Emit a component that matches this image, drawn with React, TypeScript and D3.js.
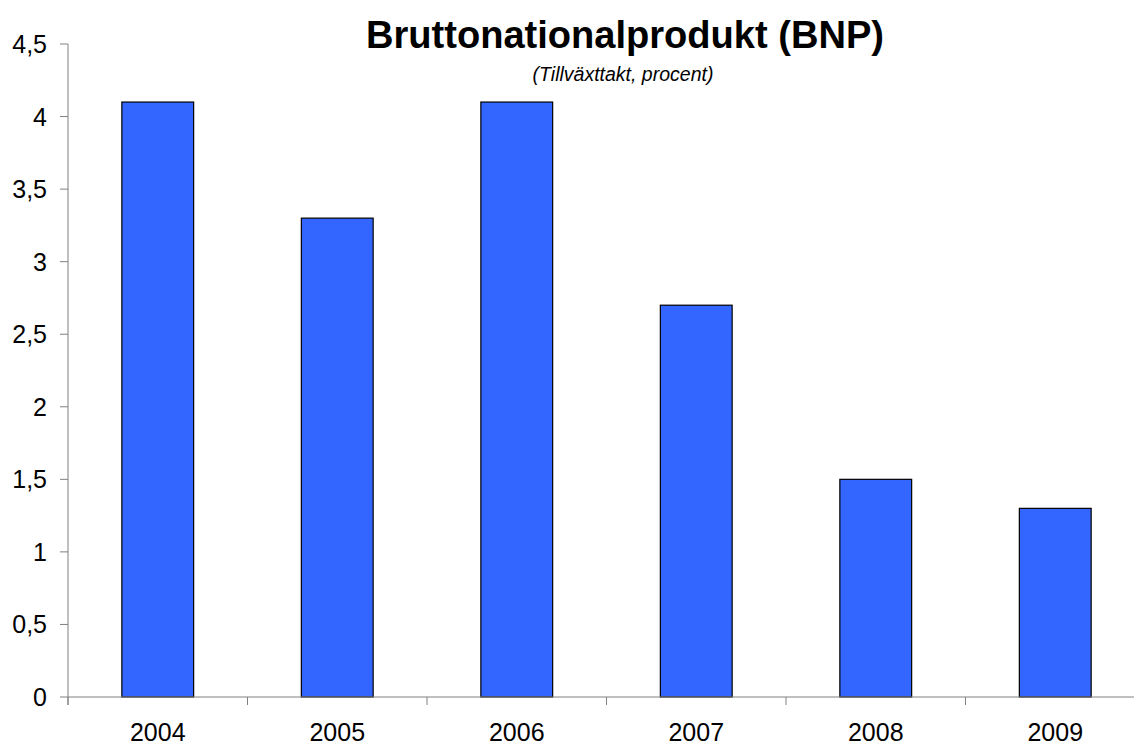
import React from "react";
import * as d3 from "d3";

const categories = ["2004", "2005", "2006", "2007", "2008", "2009"];
const values = [4.1, 3.3, 4.1, 2.7, 1.5, 1.3];
const yTicks = [0, 0.5, 1, 1.5, 2, 2.5, 3, 3.5, 4, 4.5];
const title = "Bruttonationalprodukt (BNP)";
const subtitle = "(Tillväxttakt, procent)";

export default function App() {
  const W = 1134, H = 747;
  const x0 = 68, step = 179.5;
  const x = d3.scaleBand<string>().domain(categories).range([x0, x0 + step * categories.length]).paddingInner(0.6).paddingOuter(0.3);
  const y = d3.scaleLinear().domain([0, 4.5]).range([697, 44]);
  const fmt = (v: number) => String(v).replace(".", ",");
  const font = "'Liberation Sans', Arial, sans-serif";
  const boundaries = d3.range(categories.length + 1).map((i) => x0 + step * i);
  return (
    <svg width={W} height={H} style={{ position: "absolute", left: 0, top: 0 }} fontFamily={font}>
      <rect width={W} height={H} fill="#fff" />
      <text x={625} y={48} textAnchor="middle" fontSize={38} fontWeight="bold" textLength={518} lengthAdjust="spacingAndGlyphs">{title}</text>
      <text x={623} y={81} textAnchor="middle" fontSize={19.5} fontStyle="italic">{subtitle}</text>
      {values.map((v, i) => (
        <rect key={i} x={x(categories[i])!} y={y(v)} width={x.bandwidth()} height={y(0) - y(v)} fill="#3366FF" stroke="#000" strokeWidth={1.2} />
      ))}
      <line x1={x0} x2={W} y1={y(0)} y2={y(0)} stroke="#808080" strokeWidth={1} />
      <line x1={x0} x2={x0} y1={y(4.5)} y2={y(0) + 8} stroke="#808080" strokeWidth={1} />
      {yTicks.map((t) => (
        <g key={t}>
          <line x1={x0 - 8} x2={x0} y1={y(t)} y2={y(t)} stroke="#808080" />
          <text x={47} y={y(t)} dy="0.36em" textAnchor="end" fontSize={25}>{fmt(t)}</text>
        </g>
      ))}
      {boundaries.map((b, i) => (
        <line key={i} x1={b} x2={b} y1={y(0)} y2={y(0) + 8} stroke="#808080" />
      ))}
      {categories.map((c) => (
        <text key={c} x={x(c)! + x.bandwidth() / 2} y={741} textAnchor="middle" fontSize={25}>{c}</text>
      ))}
    </svg>
  );
}
